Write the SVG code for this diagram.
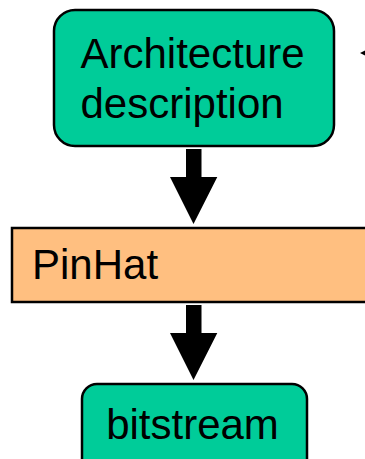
<svg xmlns="http://www.w3.org/2000/svg" width="365" height="459" viewBox="0 0 365 459">
<style>
.box{stroke:#000;stroke-width:2.5}
.teal{fill:#00CC99}
.orange{fill:#FFBF80}
.lbl{font-family:"Liberation Sans",Arial,sans-serif;font-size:42px;fill:#000}
.arr{fill:#000}
</style>
<rect x="0" y="0" width="365" height="459" fill="#fff"/>
<g id="connectors">
<polygon class="arr" points="186,149 201.5,149 201.5,177 217.3,177 193.5,224 170,177 186,177"/>
<polygon class="arr" points="186,305 201.5,305 201.5,333 217.3,333 193.5,380 170,333 186,333"/>
<polygon class="arr" points="360,53 366,50 366,56"/>
</g>
<g id="arch">
<rect class="box teal" x="54" y="10" width="280" height="136" rx="21"/>
<text class="lbl" x="80.5" y="68">Architecture</text>
<text class="lbl" x="80.5" y="118">description</text>
</g>
<g id="pinhat">
<rect class="box orange" x="12" y="228" width="370" height="74"/>
<text class="lbl" x="32" y="279">PinHat</text>
</g>
<g id="bitstream">
<rect class="box teal" x="82" y="384" width="225" height="100" rx="15"/>
<text class="lbl" x="192.5" y="439" text-anchor="middle">bitstream</text>
</g>
</svg>
